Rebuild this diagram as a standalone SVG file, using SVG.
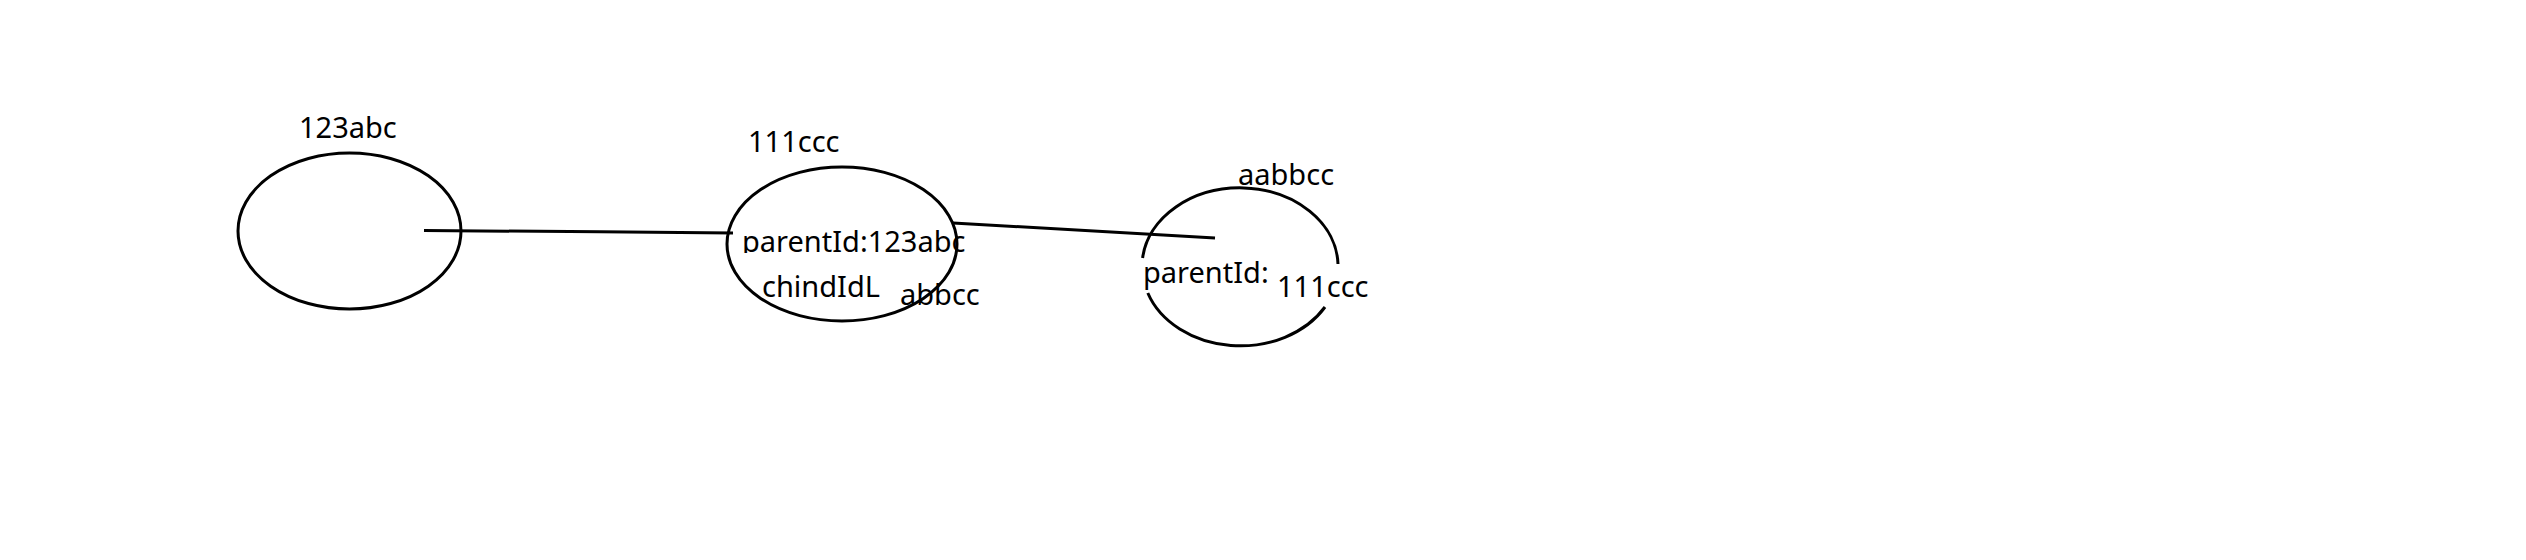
<svg xmlns="http://www.w3.org/2000/svg" width="2526" height="560" viewBox="0 0 2526 560">
<style>
.shape{fill:none;stroke:#000;stroke-width:3}
.conn{fill:none;stroke:#000;stroke-width:3}
text{font-family:"Noto Sans","Open Sans","Liberation Sans",sans-serif;font-size:29px;fill:#000}
</style>
<defs>
<clipPath id="clipP"><rect x="700" y="200" width="300" height="53"/></clipPath>
</defs>
<rect width="2526" height="560" fill="#fff"/>
<g id="connectors">
<polyline class="conn" points="424,230.5 600,231.8 733,233"/>
<line class="conn" x1="953" y1="223" x2="1215" y2="238"/>
</g>
<g id="node-123abc">
<ellipse class="shape" cx="349.5" cy="231" rx="111.5" ry="78"/>
<text x="299" y="138">123abc</text>
</g>
<g id="node-111ccc">
<ellipse class="shape" cx="842" cy="244" rx="115" ry="77"/>
<text x="748" y="152">111ccc</text>
<text x="742" y="252" clip-path="url(#clipP)">parentId:123abc</text>
<text x="762" y="297">chindIdL</text>
<text x="900" y="305">abbcc</text>
</g>
<g id="node-aabbcc">
<path class="shape" d="M1142.6,258 A98,78.5 0 0 1 1338,264"/>
<path class="shape" d="M1325,307 A98,78.5 0 0 1 1147.8,293"/>
<text x="1238" y="185">aabbcc</text>
<text x="1143" y="283">parentId:</text>
<text x="1277" y="297">111ccc</text>
</g>
</svg>
